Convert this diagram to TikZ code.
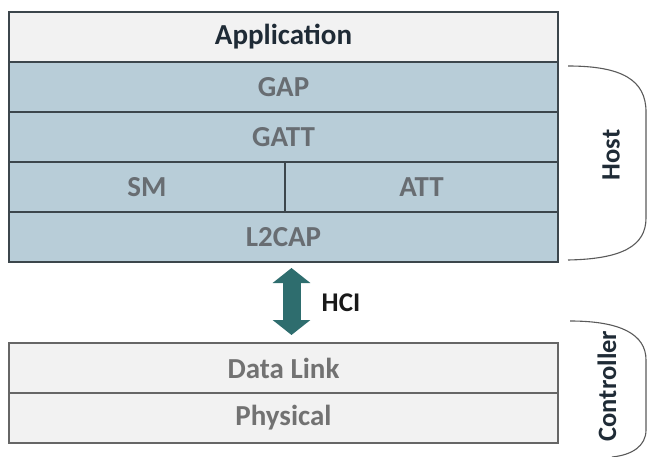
\documentclass[tikz,border=0pt]{standalone}
\usepackage{fontspec}
\setmainfont{Carlito}
\usetikzlibrary{
    arrows.meta,% HCI arrow
    positioning% wg. " of "
}
\definecolor{appfill}{HTML}{F2F2F2}
\definecolor{apptext}{HTML}{1F2B36}
\definecolor{hostfill}{HTML}{B8CDD8}
\definecolor{hosttext}{HTML}{686D72}
\definecolor{ctrltext}{HTML}{727272}
\definecolor{edge}{HTML}{3C464C}
\definecolor{hciteal}{HTML}{2E6D6E}
\definecolor{bracegray}{HTML}{5A5A5A}

\begin{document}
\begin{tikzpicture}[x=1pt,y=-1pt,
    box/.style={draw=edge, line width=1.2pt, outer sep=0pt, inner sep=0pt,
        minimum width=549pt, minimum height=50pt,
        font=\bfseries\fontsize{29}{29}\selectfont},
    applayer/.style={box, fill=appfill, text=apptext},
    hostlayer/.style={box, fill=hostfill, text=hosttext},
    ctrllayer/.style={box, fill=appfill, text=ctrltext, draw=gray!80!black},
    side/.style={font=\bfseries\fontsize{26.5}{26.5}\selectfont, text=apptext, rotate=90},
    brace/.style={draw=bracegray, line width=1.1pt},
    hci/.style={draw=hciteal, line width=18pt,
        {Triangle[width=37pt,length=15pt]}-{Triangle[width=37pt,length=15pt]}}
]
    \useasboundingbox (0,0) rectangle (647,457);

    %%% host stack
    \node[applayer, anchor=north west] (app) at (9,12) {Application};
    \node[hostlayer, below=0pt of app] (gap) {GAP};
    \node[hostlayer, below=0pt of gap] (gatt) {GATT};
    \node[hostlayer, minimum width=276pt, anchor=north west] (sm) at (gatt.south west) {SM};
    \node[hostlayer, minimum width=273pt, anchor=north west] (att) at (sm.north east) {ATT};
    \node[hostlayer, anchor=north west] (l2cap) at (sm.south west) {L2CAP};

    %%% controller stack
    \node[ctrllayer, anchor=north west] (link) at (9,343) {Data Link};
    \node[ctrllayer, below=0pt of link] (phy) {Physical};

    %%% HCI between the two
    \draw[hci, shorten <=6pt, shorten >=8pt]
        ([xshift=8pt]l2cap.south) -- ([xshift=8pt]link.north);
    \node[font=\bfseries\fontsize{27}{27}\selectfont, text=black!90] (hcilabel) at (341,303) {HCI};

    %%% host brace
    \draw[brace] (568,66)
    .. controls (622,66) and (646,80) .. (646,112)
    -- (646,218)
    .. controls (646,246) and (622,259) .. (568,260);
    \node[side] (host) at (611,155) {Host};

    %%% controller brace
    \draw[brace] (570,321)
    .. controls (620,321) and (646,334) .. (646,360)
    -- (646,430)
    .. controls (646,446) and (632,455) .. (612,457);
    \node[side] (ctrl) at (607,386) {Controller};
\end{tikzpicture}
\end{document}
